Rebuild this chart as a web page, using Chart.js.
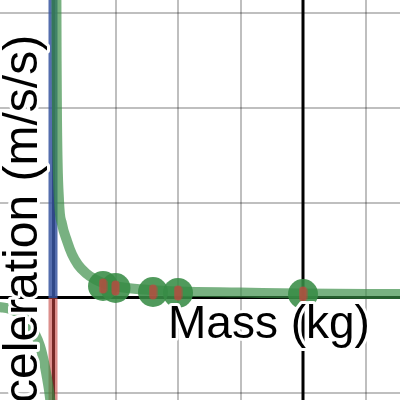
<!DOCTYPE html>
<html>
<head>
<meta charset="utf-8">
<script src="https://cdn.jsdelivr.net/npm/chart.js@4/dist/chart.umd.min.js"></script>
<style>
  body { margin: 0; background: #fff; }
  canvas { display: block; }
</style>
</head>
<body>
<canvas id="forceChart" width="400" height="400"></canvas>
<script>
// measured points: mass (kg) vs acceleration (m/s/s)
const massKg = [0.8, 1.0, 1.6, 2.0, 4.0];
const accel = [0.126, 0.105, 0.063, 0.053, 0.042];

// fitted curve (two branches of the hyperbola)
const curveRightX = [0.054, 0.058, 0.064, 0.096, 0.144, 0.224, 0.304, 0.40, 0.528, 0.672, 0.832, 1.072, 1.552, 2.032, 2.992, 3.952, 5.6];
const curveRightY = [3.3, 2.5, 1.87, 1.03, 0.78, 0.60, 0.46, 0.35, 0.26, 0.195, 0.15, 0.116, 0.084, 0.068, 0.058, 0.047, 0.042];
const curveLeftX = [-0.86, -0.688, -0.528, -0.40, -0.304, -0.208, -0.144, -0.096, -0.064, -0.03];
const curveLeftY = [-0.095, -0.116, -0.168, -0.253, -0.358, -0.505, -0.674, -0.842, -0.968, -1.15];

const xRange = [-0.848, 5.552];
const yRange = [-1.074, 3.137];
const markerX = 4;

const toPoints = (xs, ys) => xs.map((x, i) => ({x: x, y: ys[i]}));
const curve = toPoints(curveLeftX, curveLeftY)
    .concat([{x: 0, y: null}])
    .concat(toPoints(curveRightX, curveRightY));

// small red error mark drawn inside each green dot
const barMark = document.createElement('canvas');
barMark.width = 9;
barMark.height = 16;
const bctx = barMark.getContext('2d');
bctx.fillStyle = 'rgba(199, 68, 64, 0.75)';
bctx.beginPath();
bctx.arc(4.5, 4.5, 4, Math.PI, 0);
bctx.lineTo(8.5, 11.5);
bctx.arc(4.5, 11.5, 4, 0, Math.PI);
bctx.closePath();
bctx.fill();

const gridColor = (ctx) => {
    const v = ctx.tick.value;
    if (v === 0) return '#000';
    return Number.isInteger(v) ? 'rgba(0, 0, 0, 0.25)' : 'rgba(0,0,0,0)';
};
const gridWidth = (ctx) => (ctx.tick.value === 0 ? 3 : 2);

const labelPlugin = {
    id: 'axisLabels',
    afterDatasetsDraw(chart) {
        const {ctx, scales: {x, y}} = chart;
        ctx.save();
        ctx.font = '46px "Liberation Sans", Arial, sans-serif';
        ctx.lineJoin = 'round';
        ctx.strokeStyle = '#fff';
        ctx.lineWidth = 6;
        ctx.fillStyle = '#000';
        ctx.textBaseline = 'alphabetic';

        ctx.textAlign = 'left';
        const lx = x.getPixelForValue(1.84);
        const ly = y.getPixelForValue(-0.42);
        ctx.strokeText('Mass (kg)', lx, ly);
        ctx.fillText('Mass (kg)', lx, ly);

        ctx.font = '48px "Liberation Sans", Arial, sans-serif';
        ctx.textAlign = 'right';
        ctx.translate(x.getPixelForValue(-0.26), y.getPixelForValue(2.77));
        ctx.rotate(-Math.PI / 2);
        ctx.strokeText('Acceleration (m/s/s)', 0, 0);
        ctx.fillText('Acceleration (m/s/s)', 0, 0);
        ctx.restore();
    }
};

const ctxForce = document.getElementById('forceChart').getContext('2d');
const forceChart = new Chart(ctxForce, {
    type: 'scatter',
    data: {
        datasets: [{
            label: 'error',
            data: toPoints(massKg, accel),
            pointStyle: barMark,
            pointRadius: 8,
            order: 0
        }, {
            label: 'measured',
            data: toPoints(massKg, accel),
            backgroundColor: 'rgba(56, 140, 70, 0.88)',
            borderWidth: 0,
            pointRadius: 15,
            order: 1
        }, {
            label: 'fit',
            data: curve,
            showLine: true,
            spanGaps: false,
            cubicInterpolationMode: 'monotone',
            borderColor: 'rgba(56, 140, 70, 0.68)',
            borderWidth: 10,
            pointRadius: 0,
            order: 2
        }, {
            label: 'positive',
            data: [{x: 0, y: 0}, {x: 0, y: yRange[1] + 1}],
            showLine: true,
            borderColor: 'rgba(55, 85, 160, 0.85)',
            borderWidth: 9,
            pointRadius: 0,
            order: 3
        }, {
            label: 'negative',
            data: [{x: 0, y: yRange[0] - 1}, {x: 0, y: 0}],
            showLine: true,
            borderColor: 'rgba(199, 68, 64, 0.6)',
            borderWidth: 9,
            pointRadius: 0,
            order: 3
        }, {
            label: 'mark',
            data: [{x: markerX, y: yRange[0] - 1}, {x: markerX, y: yRange[1] + 1}],
            showLine: true,
            borderColor: '#000',
            borderWidth: 3,
            pointRadius: 0,
            order: 4
        }]
    },
    options: {
        responsive: false,
        animation: false,
        layout: { padding: 0, autoPadding: false },
        plugins: {
            legend: { display: false },
            tooltip: { enabled: false }
        },
        scales: {
            x: {
                min: xRange[0],
                max: xRange[1],
                ticks: { display: false, stepSize: 1, includeBounds: false },
                grid: { color: gridColor, lineWidth: gridWidth, drawTicks: false },
                border: { display: false }
            },
            y: {
                min: yRange[0],
                max: yRange[1],
                ticks: { display: false, stepSize: 1, includeBounds: false },
                grid: { color: gridColor, lineWidth: gridWidth, drawTicks: false },
                border: { display: false }
            }
        }
    },
    plugins: [labelPlugin]
});
</script>
</body>
</html>
